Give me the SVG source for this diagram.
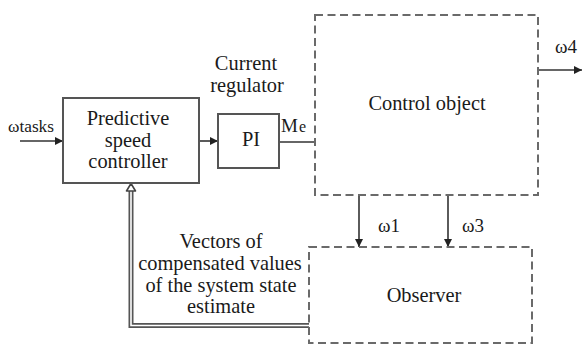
<svg xmlns="http://www.w3.org/2000/svg" width="582" height="345" viewBox="0 0 582 345">
  <defs>
    <marker id="arrow" viewBox="0 0 10 10" refX="10" refY="5" markerWidth="8" markerHeight="8" markerUnits="userSpaceOnUse" orient="auto">
      <path d="M0,0 L10,5 L0,10 z" fill="#222"/>
    </marker>
  </defs>
  <style>
    .box { fill: #fff; stroke: #555; stroke-width: 2; }
    .dash { fill: none; stroke: #6a6a6a; stroke-width: 2; stroke-dasharray: 8 4.5; }
    .wire { fill: none; stroke: #333; stroke-width: 1.6; }
    text { font-family: "Liberation Serif", "DejaVu Serif", serif; fill: #1a1a1a; }
    .lbl { font-size: 20.4px; }
    .sm { font-size: 19px; }
    .me { font-size: 19px; }
    .sub { font-size: 16px; }
    .tiny { font-size: 16px; }
    .mid { text-anchor: middle; }
  </style>
  <rect width="582" height="345" fill="#fff"/>

  <g id="connectors">
    <!-- reference input -->
    <line class="wire" x1="20" y1="141" x2="63" y2="141" marker-end="url(#arrow)"/>
    <!-- controller to current regulator -->
    <line class="wire" x1="199" y1="141" x2="218" y2="141" marker-end="url(#arrow)"/>
    <!-- torque to plant -->
    <line class="wire" x1="279" y1="142" x2="316" y2="142"/>
    <!-- plant output -->
    <line class="wire" x1="539" y1="70" x2="582" y2="70" marker-end="url(#arrow)"/>
    <!-- measured speeds into observer -->
    <line class="wire" x1="359" y1="196" x2="359" y2="247" marker-end="url(#arrow)"/>
    <line class="wire" x1="448" y1="196" x2="448" y2="247" marker-end="url(#arrow)"/>
    <!-- double-line state feedback -->
    <path d="M309,325.5 H131 V191" fill="none" stroke="#555" stroke-width="5"/>
    <path d="M309,325.5 H131 V191" fill="none" stroke="#fff" stroke-width="1.6"/>
    <path d="M131,183.5 L135.5,191 L126.5,191 z" fill="#fff" stroke="#444" stroke-width="1.6" stroke-linejoin="round"/>
  </g>

  <g id="predictive-speed-controller">
    <rect class="box" x="63" y="98" width="136" height="85"/>
    <text class="lbl mid" x="128" y="125">Predictive</text>
    <text class="lbl mid" x="128" y="147">speed</text>
    <text class="lbl mid" x="128" y="168">controller</text>
  </g>

  <g id="current-regulator">
    <rect class="box" x="218" y="114" width="61" height="54"/>
    <text class="lbl mid" x="251" y="146">PI</text>
    <text class="lbl mid" x="246" y="70">Current</text>
    <text class="lbl mid" x="247" y="92">regulator</text>
  </g>

  <g id="control-object">
    <rect class="dash" x="315" y="15" width="223" height="180"/>
    <text class="lbl mid" x="427" y="110">Control object</text>
  </g>

  <g id="observer">
    <rect class="dash" x="309" y="247" width="223" height="96"/>
    <text class="lbl mid" x="424" y="302">Observer</text>
  </g>

  <g id="labels">
    <text class="tiny" x="8" y="132" textLength="46" lengthAdjust="spacingAndGlyphs">ωtasks</text>
    <text class="me" x="281" y="132">M<tspan class="sub" dx="1">e</tspan></text>
    <text class="sm" x="555" y="53">ω4</text>
    <text class="sm" x="378" y="232">ω1</text>
    <text class="sm" x="462" y="232">ω3</text>
    <text class="lbl mid" x="221" y="248">Vectors of</text>
    <text class="lbl mid" x="220" y="270">compensated values</text>
    <text class="lbl mid" x="221" y="292">of the system state</text>
    <text class="lbl mid" x="221" y="313">estimate</text>
  </g>
</svg>
